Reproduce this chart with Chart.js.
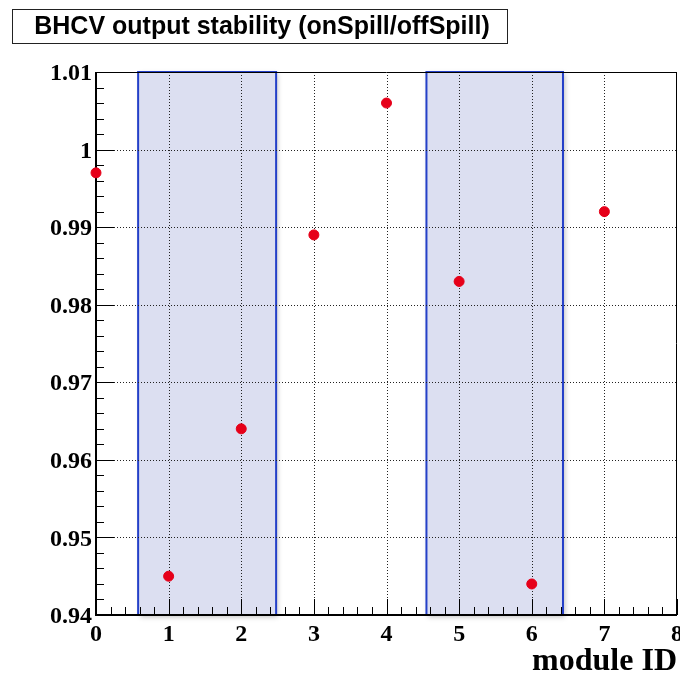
<!DOCTYPE html>
<html>
<head>
<meta charset="utf-8">
<script src="https://cdn.jsdelivr.net/npm/chart.js@4"></script>
<style>
  body { margin: 0; background: #fff; overflow: hidden; }
  #wrap { position: relative; width: 680px; height: 675px; overflow: hidden; }
  canvas { display: block; }
</style>
</head>
<body>
<div id="wrap"><canvas id="myChart" width="683" height="675"></canvas></div>
<script>
// module IDs and onSpill/offSpill ratio
var moduleIds = [0, 1, 2, 3, 4, 5, 6, 7];
var ratios = [0.997, 0.945, 0.964, 0.989, 1.006, 0.983, 0.944, 0.992];

// shaded bands (module range)
var bandStarts = [0.58, 4.55];
var bandEnds = [2.48, 6.43];

// tick labels
var xTickValues = [0, 1, 2, 3, 4, 5, 6, 7, 8];
var xTickLabels = ['0', '1', '2', '3', '4', '5', '6', '7', '8'];
var yTickValues = [0.94, 0.95, 0.96, 0.97, 0.98, 0.99, 1.0, 1.01];
var yTickLabels = ['0.94', '0.95', '0.96', '0.97', '0.98', '0.99', '1', '1.01'];

var titleText = 'BHCV output stability (onSpill/offSpill)';
var xAxisTitle = 'module ID';

var labelFont = 'bold 24px "Liberation Serif", "DejaVu Serif", serif';

var rootFrame = {
  id: 'rootFrame',
  beforeDatasetsDraw: function(chart) {
    var ctx = chart.ctx, a = chart.chartArea;
    var x = chart.scales.x, y = chart.scales.y;
    ctx.save();

    // bands
    for (var i = 0; i < bandStarts.length; i++) {
      var x0 = x.getPixelForValue(bandStarts[i]);
      var x1 = x.getPixelForValue(bandEnds[i]);
      ctx.shadowColor = 'rgba(0,0,0,0.25)';
      ctx.shadowBlur = 5;
      ctx.shadowOffsetX = 2;
      ctx.shadowOffsetY = 2;
      ctx.fillStyle = '#dcdff1';
      ctx.fillRect(x0, a.top, x1 - x0, a.bottom - a.top);
      ctx.shadowColor = 'transparent';
      ctx.strokeStyle = '#2440c8';
      ctx.lineWidth = 2;
      ctx.strokeRect(x0, a.top, x1 - x0, a.bottom - a.top);
    }

    // dotted grid
    ctx.strokeStyle = '#222';
    ctx.lineWidth = 1;
    ctx.setLineDash([1, 2]);
    xTickValues.forEach(function(v) {
      if (v <= x.min || v >= x.max) return;
      var px = Math.round(x.getPixelForValue(v)) + 0.5;
      ctx.beginPath(); ctx.moveTo(px, a.top); ctx.lineTo(px, a.bottom); ctx.stroke();
    });
    yTickValues.forEach(function(v) {
      if (v <= y.min + 1e-9 || v >= y.max - 1e-9) return;
      var py = Math.round(y.getPixelForValue(v)) + 0.5;
      ctx.beginPath(); ctx.moveTo(a.left, py); ctx.lineTo(a.right, py); ctx.stroke();
    });
    ctx.setLineDash([]);

    // frame
    ctx.strokeStyle = '#000';
    ctx.lineWidth = 1;
    ctx.beginPath();
    ctx.moveTo(a.left, a.top + 0.5); ctx.lineTo(a.right, a.top + 0.5);
    ctx.moveTo(a.right - 0.5, a.top); ctx.lineTo(a.right - 0.5, a.bottom);
    ctx.stroke();
    ctx.lineWidth = 2;
    ctx.beginPath();
    ctx.moveTo(a.left, a.top); ctx.lineTo(a.left, a.bottom);
    ctx.lineTo(a.right, a.bottom);
    ctx.stroke();

    // inward ticks, 5 subdivisions
    ctx.lineWidth = 1;
    ctx.beginPath();
    for (var xi = 0; xi < xTickValues.length; xi++) {
      for (var k = 0; k < 5; k++) {
        var xv = xTickValues[xi] + k * 0.2;
        if (xv > x.max) break;
        var tx = Math.round(x.getPixelForValue(xv)) + 0.5;
        var len = k === 0 ? 16 : 8;
        ctx.moveTo(tx, a.bottom); ctx.lineTo(tx, a.bottom - len);
      }
    }
    for (var yi = 0; yi < yTickValues.length; yi++) {
      for (var m = 0; m < 5; m++) {
        var yv = yTickValues[yi] + m * 0.002;
        if (yv > y.max + 1e-9) break;
        var ty = Math.round(y.getPixelForValue(yv)) + 0.5;
        var ylen = m === 0 ? 18 : 8;
        ctx.moveTo(a.left, ty); ctx.lineTo(a.left + ylen, ty);
      }
    }
    ctx.stroke();
    ctx.restore();
  },
  afterDraw: function(chart) {
    var ctx = chart.ctx, a = chart.chartArea;
    var x = chart.scales.x, y = chart.scales.y;
    ctx.save();
    ctx.fillStyle = '#000';
    ctx.font = labelFont;

    // y labels
    ctx.textAlign = 'right';
    ctx.textBaseline = 'middle';
    yTickValues.forEach(function(v, i) {
      ctx.fillText(yTickLabels[i], a.left - 4, y.getPixelForValue(v) + 2);
    });

    // x labels
    ctx.textAlign = 'center';
    ctx.textBaseline = 'alphabetic';
    xTickValues.forEach(function(v, i) {
      ctx.fillText(xTickLabels[i], x.getPixelForValue(v), a.bottom + 26);
    });

    // axis title
    ctx.font = 'bold 32px "Liberation Serif", "DejaVu Serif", serif';
    ctx.textAlign = 'right';
    ctx.fillText(xAxisTitle, a.right, 670);

    // title box
    ctx.fillStyle = '#fff';
    ctx.fillRect(12, 9, 495, 34);
    ctx.strokeStyle = '#222';
    ctx.lineWidth = 1;
    ctx.strokeRect(12.5, 9.5, 495, 34);
    ctx.fillStyle = '#000';
    ctx.font = 'bold 25px "Liberation Sans", Arial, sans-serif';
    ctx.textAlign = 'center';
    ctx.fillText(titleText, 262, 34);
    ctx.restore();
  }
};

var points = moduleIds.map(function(id, i) { return { x: id, y: ratios[i] }; });

var ctx = document.getElementById('myChart').getContext('2d');
var chart = new Chart(ctx, {
    type: 'scatter',
    data: {
        datasets: [{
            label: 'onSpill/offSpill',
            data: points,
            backgroundColor: '#e60019',
            borderColor: '#e60019',
            pointRadius: 5,
            pointHoverRadius: 5,
            clip: false
        }]
    },
    options: {
        responsive: false,
        animation: false,
        layout: { padding: { left: 96, top: 72, right: 0, bottom: 60 } },
        plugins: {
            legend: { display: false },
            tooltip: { enabled: false },
            title: { display: false }
        },
        scales: {
            x: { type: 'linear', min: 0, max: 8, display: false },
            y: { type: 'linear', min: 0.94, max: 1.01, display: false }
        }
    },
    plugins: [rootFrame]
});
</script>
</body>
</html>
